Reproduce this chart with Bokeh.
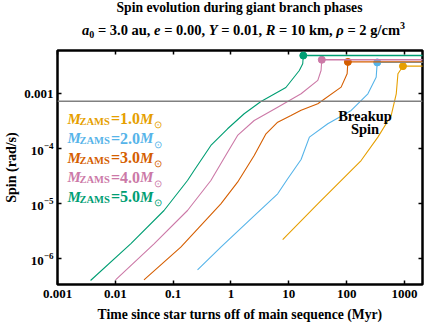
from bokeh.plotting import figure
from bokeh.models import Range1d, FixedTicker, LogAxis, Label, Span, Div
from bokeh.layouts import column
from bokeh.embed import file_html
from bokeh.resources import INLINE

FONT = "Liberation Serif"

# ---------------- data ----------------
mass_labels = ["1.0", "2.0", "3.0", "4.0", "5.0"]
colors = ["#E69F00", "#56B4E9", "#D55E00", "#CC79A7", "#009E73"]

# time since turn-off (Myr) and spin (rad/s); last point = terminal dot
t_m1 = [7.83, 31.7, 178, 347, 590, 721, 771, 881, 942]
spin_m1 = [2.24e-6, 1.0e-5, 6.12e-5, 1.63e-4, 4.03e-4, 1.0e-3, 2.31e-3, 2.85e-3, 3.18e-3]

t_m2 = [0.264, 0.668, 2.21, 6.42, 9.57, 16.3, 22.7, 47.2, 120, 233, 324, 338]
spin_m2 = [6.3e-7, 1.63e-6, 5.34e-6, 1.52e-5, 2.85e-5, 6.39e-5, 1.63e-4, 2.85e-4, 4.97e-4, 1.0e-3, 2.0e-3, 3.72e-3]

t_m3 = [0.0313, 0.1355, 0.668, 1.30, 2.52, 4.03, 6.42, 10.9, 16.3, 31.7, 80.3, 102, 105]
spin_m3 = [4.15e-7, 1.63e-6, 1.0e-5, 2.47e-5, 7.55e-5, 1.87e-4, 3.05e-4, 4.03e-4, 5.0e-4, 6.58e-4, 1.32e-3, 2.31e-3, 3.8e-3]

t_m4 = [0.0101, 0.0467, 0.177, 0.449, 0.873, 1.30, 2.52, 6.42, 16.3, 31.7, 36.1, 37.2]
spin_m4 = [4.15e-7, 1.87e-6, 7.55e-6, 2.65e-5, 8.67e-5, 1.75e-4, 3.27e-4, 5.70e-4, 1.0e-3, 1.75e-3, 2.65e-3, 4.15e-3]

t_m5 = [0.00373, 0.0184, 0.0695, 0.177, 0.230, 0.449, 0.873, 1.69, 3.30, 8.9, 15.2, 17.4, 17.8]
spin_m5 = [4.03e-7, 1.87e-6, 7.55e-6, 2.65e-5, 4.03e-5, 1.15e-4, 2.31e-4, 4.33e-4, 7.24e-4, 1.3e-3, 2.65e-3, 3.51e-3, 4.96e-3]

times = [t_m1, t_m2, t_m3, t_m4, t_m5]
spins = [spin_m1, spin_m2, spin_m3, spin_m4, spin_m5]

breakup_spin = 7.3e-4

x_ticks = [0.001, 0.01, 0.1, 1, 10, 100, 1000]
x_tick_labels = ["0.001", "0.01", "0.1", "1", "10", "100", "1000"]
y_ticks = [1e-6, 1e-5, 1e-4, 1e-3]
y_tick_overrides = {1e-3: "0.001"}   # other decades shown as 10 with exponent

x_min, x_max = 0.001, 2050
y_min, y_max = 3.41e-7, 6.12e-3

# ---------------- header (title + subtitle) ----------------
header_html = (
    "<div style=\"position:relative;width:447px;height:44px;"
    "font-family:'Liberation Serif',serif;font-weight:bold;color:#000;\">"
    "<div style=\"position:absolute;left:57px;width:365px;top:1px;text-align:center;"
    "font-size:13.6px;line-height:13.6px;white-space:nowrap;\">"
    "Spin evolution during giant branch phases</div>"
    "<div style=\"position:absolute;left:82px;top:23px;"
    "font-size:14.5px;line-height:14.5px;white-space:nowrap;\">"
    "<i>a</i><span style=\"font-size:10px;position:relative;top:3px;\">0</span>"
    " = 3.0 au, <i>e</i> = 0.00, <i>Y</i> = 0.01, <i>R</i> = 10 km, "
    "<i>&rho;</i> = 2 g/cm<span style=\"font-size:10px;position:relative;top:-6px;\">3</span>"
    "</div></div>"
)
header = Div(text=header_html, width=447, height=44, margin=(0, 0, 0, 0))

# ---------------- figure ----------------
p = figure(width=447, height=283, x_axis_type="log", y_axis_type="log",
           x_range=Range1d(x_min, x_max), y_range=Range1d(y_min, y_max),
           output_backend="svg", toolbar_location=None,
           min_border_left=57, min_border_right=25,
           min_border_top=6, min_border_bottom=43, margin=(0, 0, 0, 0))
p.xgrid.visible = False
p.ygrid.visible = False
p.outline_line_color = "black"
p.outline_line_width = 2.5
p.outline_line_alpha = 1.0
p.background_fill_color = "white"
p.border_fill_color = "white"

p.xaxis.ticker = FixedTicker(ticks=x_ticks)
p.yaxis.ticker = FixedTicker(ticks=y_ticks)
p.xaxis.major_label_overrides = {v: s for v, s in zip(x_ticks, x_tick_labels)}
p.yaxis.major_label_overrides = y_tick_overrides

def style_axis(ax):
    ax.axis_line_color = None
    ax.major_tick_in = 4
    ax.major_tick_out = 0
    ax.major_tick_line_width = 1.5
    ax.major_tick_line_color = "black"
    ax.minor_tick_line_color = None
    ax.major_label_text_font = FONT
    ax.major_label_text_font_style = "bold"
    ax.major_label_text_color = "black"
    ax.major_label_text_font_size = "13px"
    ax.major_label_standoff = 4
    ax.axis_label_text_font = FONT
    ax.axis_label_text_font_style = "bold"
    ax.axis_label_text_color = "black"

style_axis(p.xaxis[0])
style_axis(p.yaxis[0])
p.xaxis.major_label_standoff = 5
p.yaxis.axis_label = "Spin (rad/s)"
p.yaxis.axis_label_text_font_size = "14px"
p.yaxis.axis_label_standoff = 2
p.xaxis.axis_label = "Time since star turns off of main sequence (Myr)"
p.xaxis.axis_label_text_font_size = "13.7px"
p.xaxis.axis_label_standoff = 6

top_ax = LogAxis(ticker=FixedTicker(ticks=x_ticks))
style_axis(top_ax)
top_ax.major_label_overrides = {v: "" for v in x_ticks}
top_ax.major_label_text_font_size = "1px"
top_ax.major_label_standoff = 0
p.add_layout(top_ax, "above")
right_ax = LogAxis(ticker=FixedTicker(ticks=y_ticks))
style_axis(right_ax)
right_ax.major_label_overrides = {v: "" for v in y_ticks}
right_ax.major_label_text_font_size = "1px"
right_ax.major_label_standoff = 0
p.add_layout(right_ax, "right")

# breakup spin line
p.add_layout(Span(location=breakup_spin, dimension="width",
                  line_color="#808080", line_width=1.5))

# curves, plateaus and terminal dots
for t, s, c in zip(times, spins, colors):
    p.line(t, s, line_color=c, line_width=1.1)
    p.line([t[-1], x_max * 2], [s[-1], s[-1]], line_color=c, line_width=1.4)
    p.scatter([t[-1]], [s[-1]], size=7, fill_color=c, line_color=c)

# ---------------- in-frame texts (positions in window pixels) ----------------
FL, FB = 57, 284  # frame left / bottom in window pixels

def lab(x, y, text, size, color="black", style="bold", align="left",
        baseline="alphabetic"):
    p.add_layout(Label(x=x - FL, y=FB - y, x_units="screen", y_units="screen",
                       text=text, text_font=FONT, text_font_size=f"{size}px",
                       text_font_style=style, text_color=color,
                       text_align=align, text_baseline=baseline))

# breakup label
lab(364.5, 115, "Breakup", 14.5, align="center")
lab(364.5, 128, "Spin", 14.5, align="center")

# legend
for i, (m, c) in enumerate(zip(mass_labels, colors)):
    b = 118.3 + 19.5 * i
    lab(67, b, "M", 15, color=c, style="bold italic")
    lab(79, b + 2.4, "ZAMS", 10.5, color=c)
    lab(110.5, b, "=" + m, 16, color=c)
    lab(139.5, b, "M", 15, color=c, style="bold italic")
    lab(153, b + 6, "⊙", 10, color=c, style="normal")

layout = column(header, p, margin=(0, 0, 0, 0))
open("out.html", "w").write(file_html(layout, INLINE))
